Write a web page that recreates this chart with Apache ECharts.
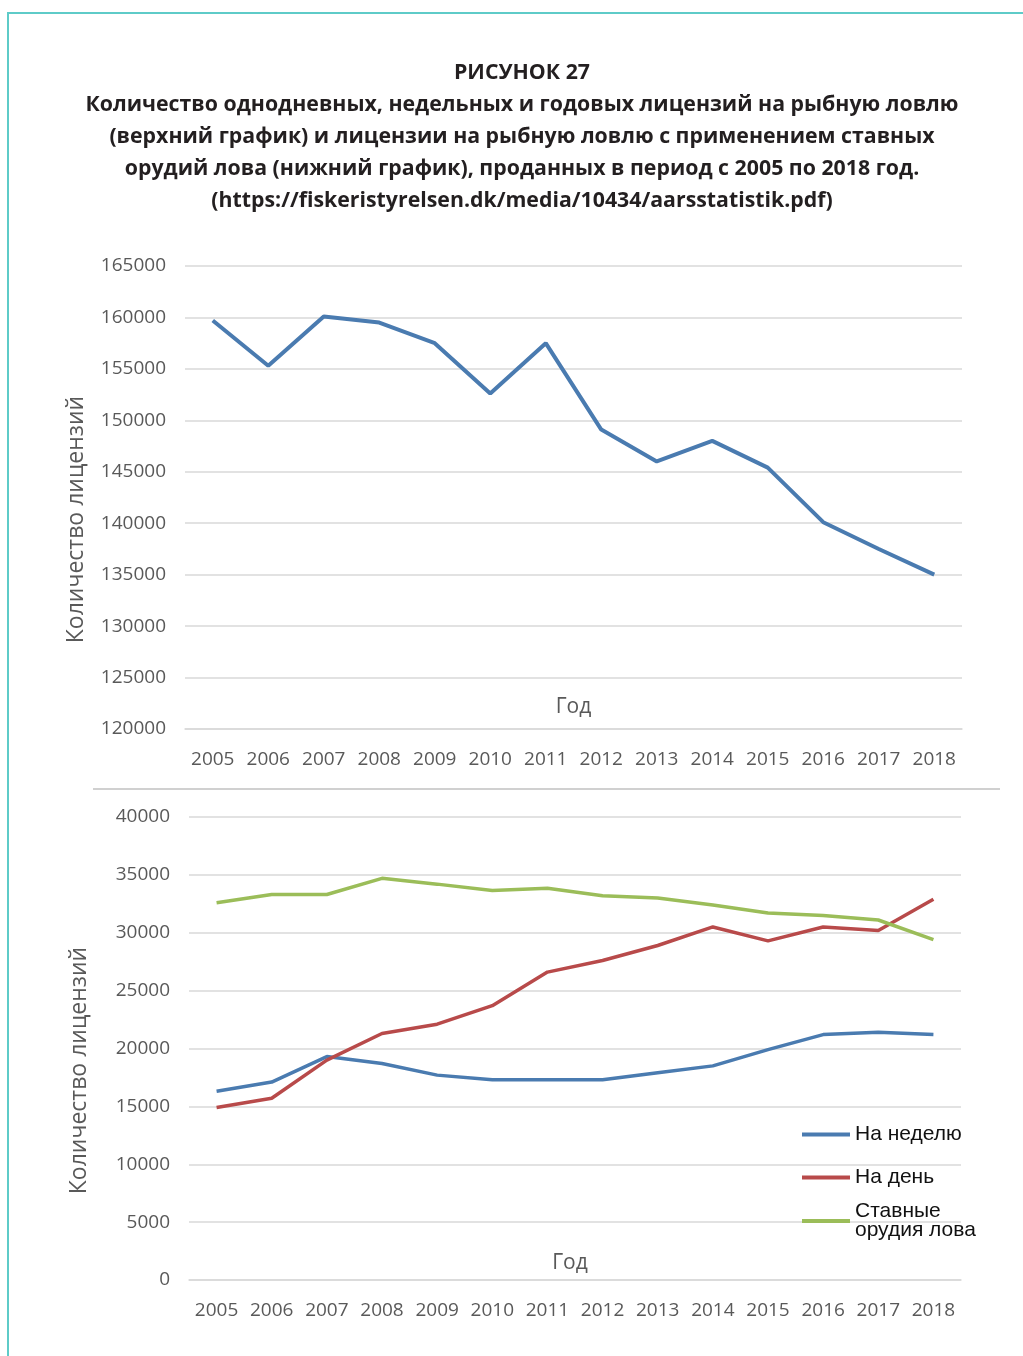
<!DOCTYPE html>
<html>
<head>
<meta charset="utf-8">
<script src="https://cdn.jsdelivr.net/npm/echarts@6/dist/echarts.min.js"></script>
<style>
html,body{margin:0;padding:0;background:#fff;}
#frame{position:absolute;left:7px;top:12px;width:1100px;height:1400px;border-top:2px solid #5ecbc8;border-left:2px solid #5ecbc8;}
#chart{position:absolute;left:0;top:0;width:1023px;height:1356px;}
</style>
</head>
<body>
<div id="frame"></div>
<div id="chart"></div>
<script>
const years = ['2005','2006','2007','2008','2009','2010','2011','2012','2013','2014','2015','2016','2017','2018'];
const totalLicenses = [159700,155300,160100,159500,157500,152600,157500,149100,146000,148000,145400,140100,137500,135000];
const perWeek = [16300,17100,19300,18700,17700,17300,17300,17300,17900,18500,19900,21200,21400,21200];
const perDay = [14900,15700,19000,21300,22100,23700,26600,27600,28900,30500,29300,30500,30200,32900];
const fixedGear = [32600,33300,33300,34700,34200,33650,33850,33200,33000,32400,31700,31500,31100,29400];
const titleLines = [
  'РИСУНОК 27',
  'Количество однодневных, недельных и годовых лицензий на рыбную ловлю',
  '(верхний график) и лицензии на рыбную ловлю с применением ставных',
  'орудий лова (нижний график), проданных в период с 2005 по 2018 год.',
  '(https://fiskeristyrelsen.dk/media/10434/aarsstatistik.pdf)'
];
const seriesNames = ['На неделю','На день','Ставные орудия лова'];
const yName = 'Количество лицензий';
const xName = 'Год';

const grey = '#595959';
const gridCol = '#d9d9d9';
const tickFont = {color: grey, fontSize: 19, fontFamily: 'Open Sans'};

function xAx(gridIndex, gap, pad){
  return {
    type:'category', gridIndex, data: years, boundaryGap:true,
    axisLine:{show:true, lineStyle:{color:gridCol, width:1.5}},
    axisTick:{show:false},
    axisLabel:Object.assign({margin:21, interval:0}, tickFont),
    name: xName, nameLocation:'middle', nameGap:gap,
    nameTextStyle:{color:grey, fontSize:21, fontFamily:'Open Sans', padding:pad}
  };
}
function yAx(gridIndex, min, max, gap){
  return {
    type:'value', gridIndex, min, max, interval:5000,
    axisLine:{show:false}, axisTick:{show:false},
    splitLine:{lineStyle:{color:gridCol, width:1.5}},
    axisLabel:Object.assign({margin:19, formatter: v => String(v)}, tickFont),
    name: yName, nameLocation:'middle', nameGap:gap, nameRotate:90,
    nameTextStyle:{color:grey, fontSize:23, fontFamily:'Open Sans', padding:[0,44,0,0]}
  };
}
function legendFor(name, top){
  return {
    data:[name], left:797, top, orient:'vertical',
    icon:'rect', itemWidth:48, itemHeight:4,
    textStyle:{color:'#111', fontSize:21, fontFamily:'Liberation Sans', lineHeight:19},
    formatter: n => n === seriesNames[2] ? 'Ставные\nорудия лова' : n
  };
}

const chart = echarts.init(document.getElementById('chart'));
chart.setOption({
  animation:false,
  title:{
    text: titleLines.join('\n'), left:517, top:52, textAlign:'center',
    textStyle:{fontFamily:'Open Sans', fontWeight:'bold', fontSize:21.3, lineHeight:32, color:'#231f20'}
  },
  legend:[legendFor(seriesNames[0],1119), legendFor(seriesNames[1],1162), legendFor(seriesNames[2],1196)],
  grid:[
    {left:185, width:777, top:266, height:463},
    {left:189, width:772, top:817, height:463}
  ],
  xAxis:[xAx(0,-32,[0,0,0,0]), xAx(1,-27,[0,10,0,0])],
  yAxis:[yAx(0,120000,165000,97), yAx(1,0,40000,98)],
  graphic:[{type:'line', shape:{x1:93,y1:789,x2:1000,y2:789}, style:{stroke:'#d0d0d0', lineWidth:2}}],
  series:[
    {type:'line', name:'Всего', xAxisIndex:0, yAxisIndex:0, data: totalLicenses, showSymbol:false,
     lineStyle:{color:'#4a7bb0', width:4}, itemStyle:{color:'#4a7bb0'}},
    {type:'line', name:seriesNames[0], xAxisIndex:1, yAxisIndex:1, data: perWeek, showSymbol:false,
     lineStyle:{color:'#4a7bb0', width:3.5}, itemStyle:{color:'#4a7bb0'}},
    {type:'line', name:seriesNames[1], xAxisIndex:1, yAxisIndex:1, data: perDay, showSymbol:false,
     lineStyle:{color:'#b84a4a', width:3.5}, itemStyle:{color:'#b84a4a'}},
    {type:'line', name:seriesNames[2], xAxisIndex:1, yAxisIndex:1, data: fixedGear, showSymbol:false,
     lineStyle:{color:'#9bbd59', width:3.5}, itemStyle:{color:'#9bbd59'}}
  ]
});
</script>
</body>
</html>
